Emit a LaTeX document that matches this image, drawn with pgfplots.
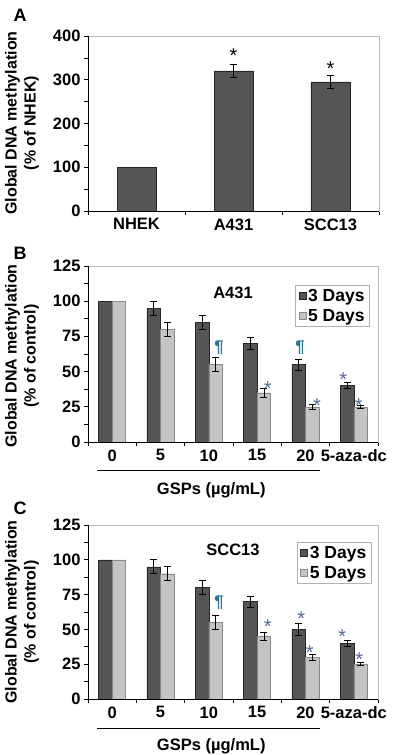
\documentclass[border=0pt]{standalone}
\usepackage{fontspec}
\setmainfont{Liberation Sans}
\usepackage{pgfplots}
\pgfplotsset{compat=1.18}
\definecolor{darkbar}{HTML}{555555}
\definecolor{lightbar}{HTML}{C4C4C4}
\definecolor{lightedge}{HTML}{8A8A8A}
\definecolor{starc}{RGB}{85,105,150}
\definecolor{pilc}{RGB}{40,120,150}
\newcommand{\lblfont}{\fontsize{16.5}{19}\selectfont\bfseries}
\newcommand{\ylblfont}{\fontsize{16}{19}\selectfont\bfseries}
\tikzset{annot/.style={font=\fontsize{20}{22}\selectfont},
         pil/.style={font=\fontsize{17}{19}\selectfont\bfseries, text=pilc}}
\pgfplotsset{
  common/.style={
    scale only axis,
    axis line style={draw=gray!55, line width=0.8pt},
    tick style={black, line width=0.7pt},
    tick align=outside,
    xtick pos=bottom, ytick pos=left,
    major tick length=4pt, minor tick length=4pt,
    major x tick style={draw=none},
    ticklabel style={font=\lblfont},
    /pgf/number format/assume math mode=true,
    ymin=0, xmin=-0.5,
    clip=false,
    after end axis/.code={\draw[black, line width=0.8pt] (rel axis cs:0,1) -- (rel axis cs:0,0) -- (rel axis cs:1,0);},
  },
  eb/.style={error bars/.cd, y dir=both, y explicit,
    error bar style={black, line width=0.8pt},
    error mark options={rotate=90, mark size=3.5pt, line width=0.8pt, black}},
  sqlegend/.style={legend image code/.code={\draw[##1,line width=0.6pt] (0pt,-3.5pt) rectangle (7pt,3.5pt);}},
  panelBC/.style={
    common, width=290pt, xmax=5.5,
    ymax=125, ytick={0,25,...,125}, minor y tick num=1,
    xtick={0,...,5}, xticklabels={0,5,10,15,20,5-aza-dc},
    minor xtick={-0.5,0.5,...,5.5},
    ybar, bar width=13.5pt,
    legend style={anchor=north east, draw=gray!60, line width=0.6pt,
      font=\fontsize{17.5}{19}\selectfont\bfseries, inner xsep=3pt, inner ysep=2pt,
      row sep=2pt, cells={anchor=west}},
  },
}
\begin{document}
\begin{tikzpicture}[x=1pt,y=1pt]
\path[use as bounding box] (0,0) rectangle (401,755);

% ---------------- Panel A ----------------
\begin{axis}[common, at={(88pt,544pt)}, anchor=south west,
  width=291pt, height=175pt, xmax=2.5,
  ymax=400, ytick={0,100,...,400}, minor y tick num=1,
  xtick={0,1,2}, xticklabels={NHEK,A431,SCC13},
  minor xtick={-0.5,0.5,1.5,2.5},
  ybar, bar width=39pt]
\addplot[fill=darkbar, draw=black!85, bar shift=0pt] coordinates {(0,100)};
\addplot[fill=darkbar, draw=black!85, bar shift=0pt, eb] coordinates {(1,320) +- (0,15) (2,295) +- (0,15)};
\node[annot] at (axis cs:1,355) {*};
\node[annot] at (axis cs:2,326) {*};
\end{axis}

% ---------------- Panel B ----------------
\begin{axis}[panelBC, at={(88pt,313pt)}, anchor=south west, height=176pt,
  legend style={at={(rel axis cs:0.972,0.892)}}]
\addplot[fill=darkbar, draw=black!85, bar shift=-6.75pt, sqlegend] coordinates {(0,100) (1,95) (2,85) (3,70) (4,55) (5,40)};
\addlegendentry{3 Days}
\addplot[fill=lightbar, draw=lightedge, bar shift=6.75pt, sqlegend] coordinates {(0,100) (1,80) (2,55) (3,35) (4,25) (5,25)};
\addlegendentry{5 Days}
\addplot[draw=none, fill=none, bar shift=-6.75pt, forget plot, eb] coordinates {(1,95) +- (0,5) (2,85) +- (0,5) (3,70) +- (0,4) (4,55) +- (0,4) (5,40) +- (0,2)};
\addplot[draw=none, fill=none, bar shift=6.75pt, forget plot, eb] coordinates {(1,80) +- (0,5) (2,55) +- (0,5) (3,35) +- (0,3) (4,25) +- (0,2) (5,25) +- (0,1)};
\node[font=\lblfont] at (axis cs:2.5,106) {A431};
\node[pil] at (axis cs:2.21,67) {¶};
\node[pil] at (axis cs:3.89,67) {¶};
\node[annot, text=starc] at (axis cs:3.22,38) {*};
\node[annot, text=starc] at (axis cs:4.24,26) {*};
\node[annot, text=starc] at (axis cs:4.78,44) {*};
\node[annot, text=starc] at (axis cs:5.1,26) {*};
\draw[black, line width=0.8pt] ([yshift=-28pt]axis cs:-0.31,0) -- ([yshift=-28pt]axis cs:4.3,0);
\node[font=\lblfont] at ([yshift=-48pt]axis cs:2.05,0) {GSPs (µg/mL)};
\end{axis}

% ---------------- Panel C ----------------
\begin{axis}[panelBC, at={(88pt,56pt)}, anchor=south west, height=174pt,
  legend style={at={(rel axis cs:0.978,0.902)}}]
\addplot[fill=darkbar, draw=black!85, bar shift=-6.75pt, sqlegend] coordinates {(0,100) (1,95) (2,80) (3,70) (4,50) (5,40)};
\addlegendentry{3 Days}
\addplot[fill=lightbar, draw=lightedge, bar shift=6.75pt, sqlegend] coordinates {(0,100) (1,90) (2,55) (3,45) (4,30) (5,25)};
\addlegendentry{5 Days}
\addplot[draw=none, fill=none, bar shift=-6.75pt, forget plot, eb] coordinates {(1,95) +- (0,5) (2,80) +- (0,5) (3,70) +- (0,4) (4,50) +- (0,4) (5,40) +- (0,2)};
\addplot[draw=none, fill=none, bar shift=6.75pt, forget plot, eb] coordinates {(1,90) +- (0,5) (2,55) +- (0,5) (3,45) +- (0,3) (4,30) +- (0,2) (5,25) +- (0,1)};
\node[font=\lblfont] at (axis cs:2.5,107) {SCC13};
\node[pil] at (axis cs:2.21,69) {¶};
\node[annot, text=starc] at (axis cs:3.22,52) {*};
\node[annot, text=starc] at (axis cs:3.91,58) {*};
\node[annot, text=starc] at (axis cs:4.09,33) {*};
\node[annot, text=starc] at (axis cs:4.76,45) {*};
\node[annot, text=starc] at (axis cs:5.11,28) {*};
\draw[black, line width=0.8pt] ([yshift=-29pt]axis cs:-0.31,0) -- ([yshift=-29pt]axis cs:4.3,0);
\node[font=\lblfont] at ([yshift=-47pt]axis cs:2.05,0) {GSPs (µg/mL)};
\end{axis}

% ---------------- labels ----------------
\node[font=\fontsize{18}{20}\selectfont\bfseries] at (20,740) {A};
\node[font=\fontsize{18}{20}\selectfont\bfseries] at (20,502) {B};
\node[font=\fontsize{18}{20}\selectfont\bfseries] at (20,247) {C};
\node[font=\ylblfont, rotate=90, align=center] at (22,632) {Global DNA methylation\\(\% of NHEK)};
\node[font=\ylblfont, rotate=90, align=center] at (22,399) {Global DNA methylation\\(\% of control)};
\node[font=\ylblfont, rotate=90, align=center] at (22,143) {Global DNA methylation\\(\% of control)};
\end{tikzpicture}
\end{document}
